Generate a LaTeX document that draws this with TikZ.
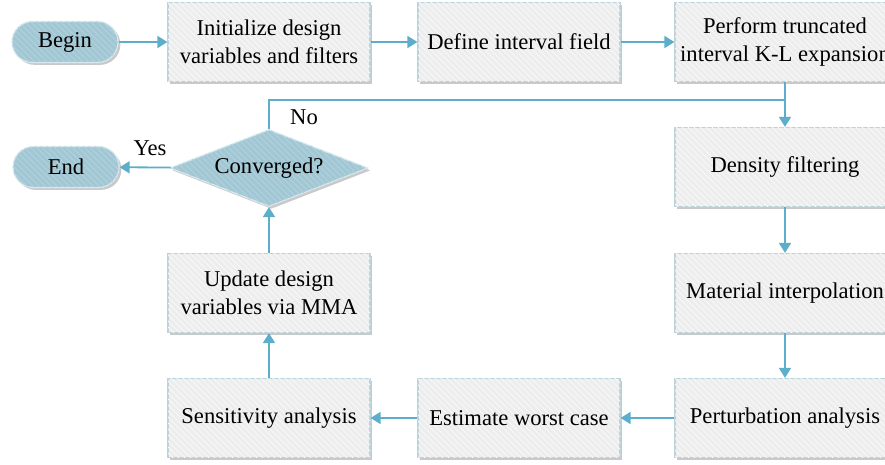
\documentclass[tikz,border=0pt]{standalone}
\usepackage{fontspec}
\setmainfont{Liberation Serif}
\usetikzlibrary{shapes.geometric,shadows,patterns,arrows.meta}
\definecolor{flowblue}{HTML}{5DAECB}
\definecolor{termfill}{HTML}{A2C7D4}
\definecolor{boxfill}{HTML}{EDEDED}
\definecolor{boxline}{HTML}{BCD3DB}

\begin{document}
\begin{tikzpicture}[x=0.5pt,y=-0.5pt,font=\fontsize{11.3}{13.8}\selectfont,
	shade/.style={drop shadow={shadow xshift=1.2pt,shadow yshift=-1.2pt,opacity=0.3,fill=black!70}},
	box/.style={rectangle,draw=boxline,line width=0.6pt,fill=boxfill,shade,align=center,inner sep=2pt,minimum width=101pt,minimum height=39.5pt,postaction={pattern=north west lines,pattern color=white!60!boxfill}},
	widebox/.style={box,minimum width=110pt},
	term/.style={rectangle,rounded corners=10.25pt,draw=white!60!termfill,line width=0.6pt,fill=termfill,shade,minimum width=53pt,minimum height=20.5pt,postaction={pattern=north west lines,pattern color=white!18!termfill}},
	test/.style={diamond,draw=white!60!termfill,line width=0.6pt,fill=termfill,shade,inner sep=0pt,aspect=2.57,minimum width=99pt,minimum height=38.5pt,postaction={pattern=north west lines,pattern color=white!18!termfill}},
	flow/.style={-{Triangle[length=5pt,width=6pt]},draw=flowblue,line width=0.9pt},
	flowline/.style={draw=flowblue,line width=0.9pt}]
	\useasboundingbox(0,0)rectangle(885,465);
	\clip(0,0)rectangle(885,465);
	\node(begin)at(65,42)[term]{Begin};
	\node(init)at(269,42)[box]{Initialize design\\variables and filters};
	\node(define)at(519,42)[box]{Define interval field};
	\node(kl)at(785,42)[widebox]{Perform truncated\\interval K-L expansion};
	\node(density)at(785,167)[widebox]{Density filtering};
	\node(interp)at(785,293)[widebox]{Material interpolation};
	\node(perturb)at(785,418)[widebox]{Perturbation analysis};
	\node(worst)at(519,418)[box]{Estimate worst case};
	\node(sens)at(269,418)[box]{Sensitivity analysis};
	\node(update)at(269,293)[box]{Update design\\variables via MMA};
	\node(conv)at(269,168)[test]{Converged?};
	\node(end)at(66,167)[term]{End};
	\node(no)at(304,117){No};
	\node(yes)at(150,148){Yes};
	\coordinate(join)at(785,100);
	\draw[flow](begin)--(init);
	\draw[flow](init)--(define);
	\draw[flow](define)--(kl);
	\draw[flow](kl)--(density);
	\draw[flow](density)--(interp);
	\draw[flow](interp)--(perturb);
	\draw[flow](perturb)--(worst);
	\draw[flow](worst)--(sens);
	\draw[flow](sens)--(update);
	\draw[flow](update)--(conv);
	\draw[flow](conv)--(end);
	\draw[flowline](conv.north)|-(join);
\end{tikzpicture}
\end{document}
